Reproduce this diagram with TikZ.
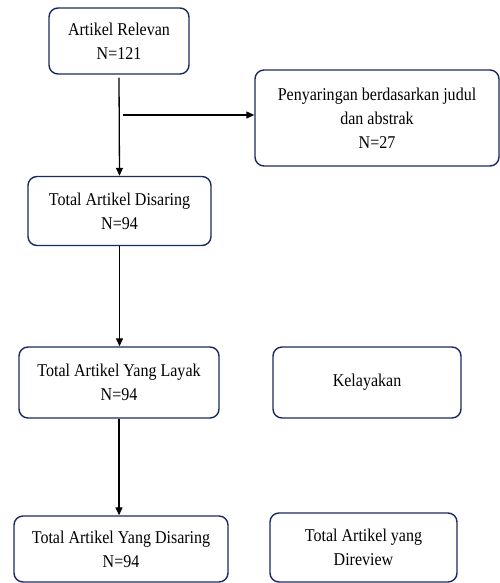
\documentclass[tikz,border=0pt]{standalone}
\usepackage{fontspec}
\setmainfont[FakeStretch=0.89]{Liberation Serif}
\usetikzlibrary{arrows.meta}
\definecolor{boxblue}{HTML}{1B2A5E}
\tikzset{
  box/.style={draw=boxblue, line width=1.4pt, rounded corners=9pt, align=center,
    inner sep=0pt, font=\fontsize{18}{24}\selectfont, text=black},
  arr/.style={line width=1.3pt, -{Triangle[length=8pt,width=7pt]}}
}
\begin{document}
\begin{tikzpicture}[x=1pt,y=1pt]
\useasboundingbox (0,0) rectangle (500,-583);
\node[box, minimum width=140pt, minimum height=66pt] (b1) at (119,-41) {Artikel Relevan\\N=121};
\node[box, minimum width=244pt, minimum height=96pt] (b2) at (377,-118) {Penyaringan berdasarkan judul\\dan abstrak\\N=27};
\node[box, minimum width=183pt, minimum height=69pt] (b3) at (119.5,-211) {Total Artikel Disaring\\N=94};
\node[box, minimum width=200pt, minimum height=71pt] (b4) at (119,-382.5) {Total Artikel Yang Layak\\N=94};
\node[box, minimum width=188pt, minimum height=71pt] (b5) at (367,-382.5) {Kelayakan};
\node[box, minimum width=214pt, minimum height=66pt] (b6) at (121,-549) {Total Artikel Yang Disaring\\N=94};
\node[box, minimum width=187pt, minimum height=69pt] (b7) at (363.5,-547.5) {Total Artikel yang\\Direview};
\coordinate (h) at (123,-115);
\draw[arr] ([yshift=-3pt]b1.south) -- (b3.north);
\draw[arr] (h) -- (b2.west |- h);
\draw[arr] (b3.south) -- (b3.south |- b4.north);
\draw[arr] (b4.south) -- (b4.south |- b6.north);
\end{tikzpicture}
\end{document}
